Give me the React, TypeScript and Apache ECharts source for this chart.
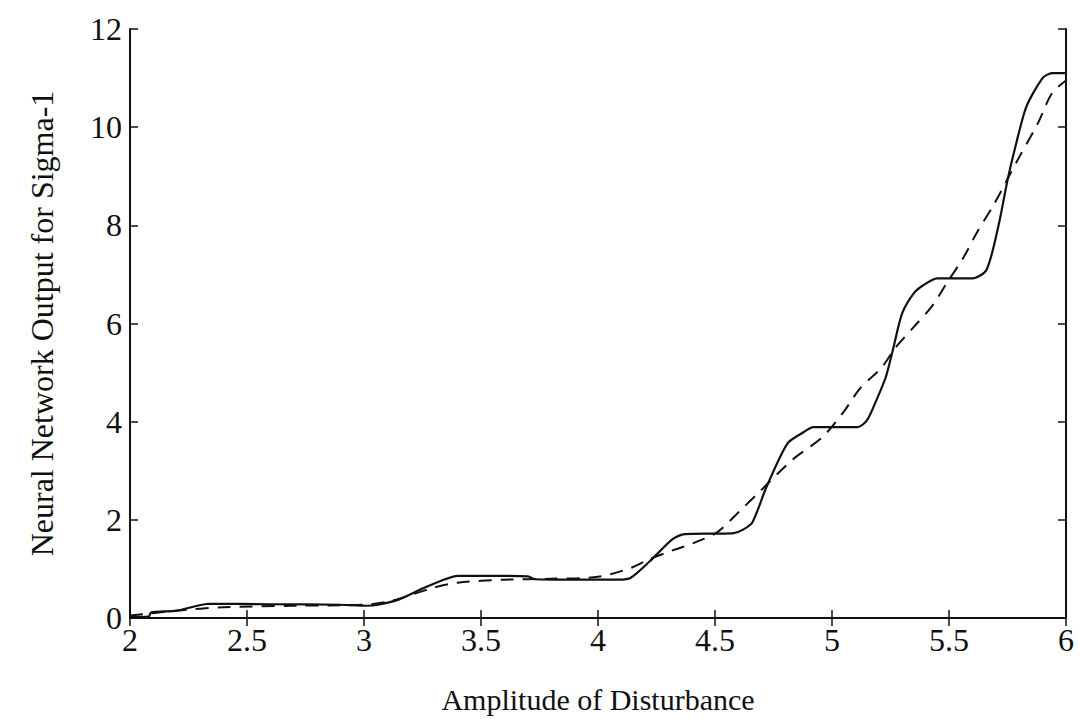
import React, { useEffect, useRef } from "react";
import * as echarts from "echarts";

const solidX = [2.0, 2.08, 2.09, 2.2, 2.34, 2.6, 2.9, 3.01, 3.06, 3.15, 3.25, 3.33, 3.4, 3.55, 3.7, 3.73, 3.9, 4.09, 4.14, 4.22, 4.32, 4.37, 4.5, 4.58, 4.62, 4.66, 4.72, 4.81, 4.88, 4.92, 5.11, 5.15, 5.19, 5.23, 5.26, 5.3, 5.35, 5.39, 5.45, 5.6, 5.66, 5.71, 5.75, 5.78, 5.83, 5.9, 5.94, 6.0];
const solidY = [0.02, 0.03, 0.11, 0.15, 0.29, 0.28, 0.27, 0.25, 0.27, 0.38, 0.6, 0.76, 0.86, 0.86, 0.85, 0.79, 0.78, 0.78, 0.82, 1.15, 1.61, 1.71, 1.72, 1.73, 1.8, 1.95, 2.67, 3.56, 3.79, 3.89, 3.89, 4.03, 4.44, 4.91, 5.46, 6.21, 6.62, 6.78, 6.92, 6.92, 7.09, 7.96, 8.92, 9.53, 10.41, 11.0, 11.1, 11.1];

const dashX = [2.0, 2.2, 2.4, 2.7, 3.0, 3.1, 3.2, 3.3, 3.4, 3.6, 3.8, 4.0, 4.14, 4.22, 4.32, 4.41, 4.51, 4.61, 4.69, 4.83, 4.96, 5.05, 5.12, 5.21, 5.27, 5.35, 5.43, 5.49, 5.56, 5.62, 5.69, 5.8, 5.88, 5.94, 6.0];
const dashY = [0.05, 0.15, 0.22, 0.25, 0.27, 0.33, 0.47, 0.62, 0.72, 0.78, 0.8, 0.84, 1.02, 1.2, 1.38, 1.53, 1.75, 2.2, 2.57, 3.22, 3.69, 4.2, 4.68, 5.09, 5.5, 5.93, 6.37, 6.82, 7.33, 7.86, 8.41, 9.39, 10.08, 10.69, 10.95];

const xTitle = "Amplitude of Disturbance";
const yTitle = "Neural Network Output for Sigma-1";

export default function App() {
  const ref = useRef<HTMLDivElement>(null);
  useEffect(() => {
    if (!ref.current) return;
    const chart = echarts.init(ref.current, null, { renderer: "svg" });
    const font = "Liberation Serif";
    const solid = solidX.map((x, i) => [x, solidY[i]]);
    const dashed = dashX.map((x, i) => [x, dashY[i]]);
    const axisLine = { show: true, lineStyle: { color: "#111", width: 2 } };
    const tick = { show: true, inside: true, length: 8, lineStyle: { color: "#111", width: 1.5 } };
    chart.setOption({
      animation: false,
      backgroundColor: "#ffffff",
      grid: { left: 130, right: 15, top: 29, bottom: 101, containLabel: false },
      xAxis: [
        {
          type: "value", min: 2, max: 6, interval: 0.5,
          axisLine, axisTick: tick, splitLine: { show: false },
          axisLabel: { color: "#111", fontFamily: font, fontSize: 32, margin: 6 },
          name: xTitle, nameLocation: "middle", nameGap: 66,
          nameTextStyle: { color: "#111", fontFamily: font, fontSize: 30 },
        },
        {
          type: "value", min: 2, max: 6, interval: 0.5, position: "top",
          axisLine, axisTick: tick, splitLine: { show: false }, axisLabel: { show: false },
        },
      ],
      yAxis: [
        {
          type: "value", min: 0, max: 12, interval: 2,
          axisLine, axisTick: tick, splitLine: { show: false },
          axisLabel: { color: "#111", fontFamily: font, fontSize: 32, margin: 8 },
          name: yTitle, nameLocation: "middle", nameGap: 72,
          nameTextStyle: { color: "#111", fontFamily: font, fontSize: 32 },
        },
        {
          type: "value", min: 0, max: 12, interval: 2, position: "right",
          axisLine, axisTick: tick, splitLine: { show: false }, axisLabel: { show: false },
        },
      ],
      series: [
        {
          type: "line", data: solid, showSymbol: false, smooth: 0.25,
          lineStyle: { color: "#111", width: 2.2, type: "solid" },
        },
        {
          type: "line", data: dashed, showSymbol: false, smooth: 0.3,
          lineStyle: { color: "#111", width: 2, type: [13, 9] },
        },
      ],
    });
    return () => chart.dispose();
  }, []);
  return (
    <div
      ref={ref}
      style={{ position: "fixed", left: 0, top: 0, width: 1081, height: 719, background: "#fff" }}
    />
  );
}
